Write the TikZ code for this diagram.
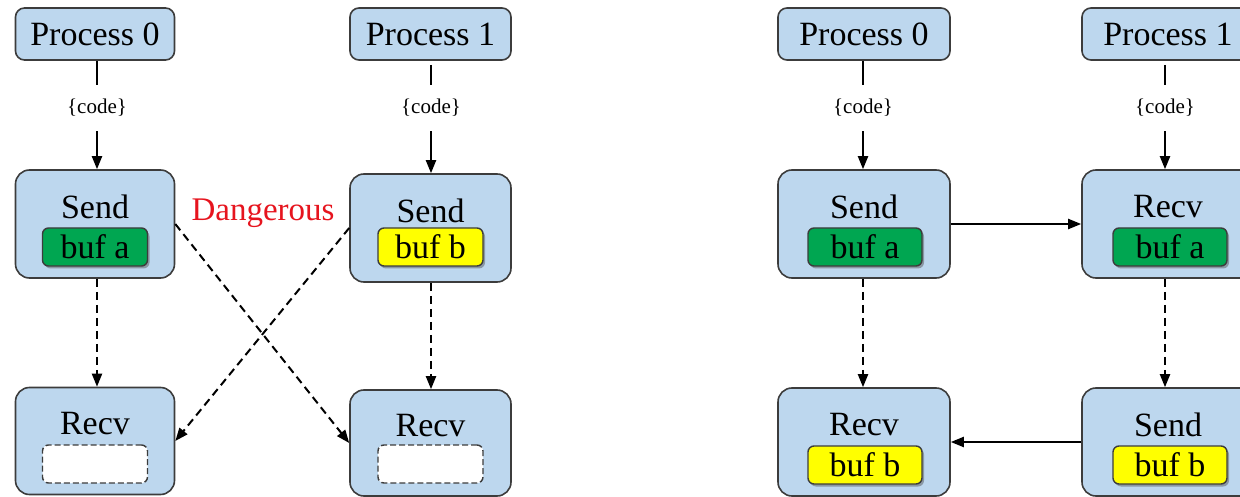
\documentclass[tikz,border=0pt]{standalone}
\usepackage{fontspec}
\setmainfont{Liberation Serif}
\usetikzlibrary{arrows.meta,shadows}
\definecolor{boxblue}{RGB}{189,215,238}
\definecolor{bufgreen}{RGB}{0,166,81}
\definecolor{bufyellow}{RGB}{255,255,0}
\definecolor{edgegray}{RGB}{60,60,60}
\definecolor{dangerred}{RGB}{230,20,30}
\begin{document}
\begin{tikzpicture}[x=1pt,y=-1pt,
  procbox/.style={draw=edgegray,line width=1.6pt,fill=boxblue,rounded corners=9pt,minimum height=52pt,inner sep=0pt,font=\fontsize{34}{40}\selectfont},
  opbox/.style={draw=edgegray,line width=1.6pt,fill=boxblue,rounded corners=14pt,minimum height=108pt,inner sep=0pt},
  optitle/.style={inner sep=0pt,font=\fontsize{34}{40}\selectfont},
  bufbox/.style={draw=edgegray,line width=1.4pt,rounded corners=6pt,minimum height=38pt,inner sep=0pt,font=\fontsize{34}{40}\selectfont,drop shadow={shadow xshift=2pt,shadow yshift=-2.5pt,opacity=0.45,fill=black!70}},
  greenbuf/.style={bufbox,fill=bufgreen},
  yellowbuf/.style={bufbox,fill=bufyellow},
  emptybuf/.style={draw=edgegray,line width=1.4pt,dash pattern=on 6pt off 3pt,rounded corners=6pt,minimum height=38pt,inner sep=0pt,fill=white},
  codelbl/.style={inner sep=0pt,minimum height=46pt,font=\fontsize{21}{24}\selectfont},
  link/.style={line width=2pt,draw=black},
  arr/.style={link,-{Triangle[length=13pt,width=10pt]}},
  darr/.style={arr,dash pattern=on 8pt off 5pt}
]
\useasboundingbox (0,0) rectangle (1240,497);

% ---------------- left diagram ----------------
\node[procbox,minimum width=159pt] (p0l) at (95,34) {Process 0};
\node[procbox,minimum width=161pt] (p1l) at (430.5,34) {Process 1};
\node[codelbl] (c0l) at (97,108) {\{code\}};
\node[codelbl] (c1l) at (431,108) {\{code\}};

\node[opbox,minimum width=159pt] (s0l) at (95,224) {};
\node[optitle] (s0lt) at (95,207) {Send};
\node[greenbuf,minimum width=105pt] (s0lb) at (95,247) {buf a};

\node[opbox,minimum width=161pt] (s1l) at (430.5,228) {};
\node[optitle] (s1lt) at (430.5,211) {Send};
\node[yellowbuf,minimum width=105pt] (s1lb) at (430.5,247) {buf b};

\node[opbox,minimum width=159pt,minimum height=107pt] (r0l) at (95,441) {};
\node[optitle] (r0lt) at (95,424) {Recv};
\node[emptybuf,minimum width=105pt] (r0lb) at (95,464) {};

\node[opbox,minimum width=161pt,minimum height=106pt] (r1l) at (430.5,443) {};
\node[optitle] (r1lt) at (430.5,426) {Recv};
\node[emptybuf,minimum width=105pt] (r1lb) at (430.5,464) {};

\node[inner sep=0pt,text=dangerred,font=\fontsize{33}{40}\selectfont] (dang) at (263,213) {Dangerous};

\draw[link] (c0l.north |- p0l.south) -- (c0l.north);
\draw[arr] (c0l.south) -- (c0l.south |- s0l.north);
\draw[link] (c1l.north |- p1l.south) ++(0,4) coordinate (p1lgap) -- (c1l.north);
\draw[arr] (c1l.south) -- (c1l.south |- s1l.north);
\draw[darr] (c0l.south |- s0l.south) -- (c0l.south |- r0l.north);
\draw[darr] (c1l.south |- s1l.south) -- (c1l.south |- r1l.north);
\draw[darr] (s0l.east) -- (r1l.west);
\draw[darr] (s1l.west) -- (r0l.east);

% ---------------- right diagram ----------------
\node[procbox,minimum width=172pt] (p0r) at (864,34) {Process 0};
\node[procbox,minimum width=172pt] (p1r) at (1168,34) {Process 1};
\node[codelbl] (c0r) at (863,108) {\{code\}};
\node[codelbl] (c1r) at (1165,108) {\{code\}};

\node[opbox,minimum width=172pt] (s0r) at (864,224) {};
\node[optitle] (s0rt) at (864,207) {Send};
\node[greenbuf,minimum width=114pt] (s0rb) at (865,247) {buf a};

\node[opbox,minimum width=172pt] (r1r) at (1168,224) {};
\node[optitle] (r1rt) at (1168,207) {Recv};
\node[greenbuf,minimum width=114pt] (r1rb) at (1170,247) {buf a};

\node[opbox,minimum width=172pt] (r0r) at (864,442) {};
\node[optitle] (r0rt) at (864,425) {Recv};
\node[yellowbuf,minimum width=114pt] (r0rb) at (865,465) {buf b};

\node[opbox,minimum width=172pt] (s1r) at (1168,442) {};
\node[optitle] (s1rt) at (1168,425) {Send};
\node[yellowbuf,minimum width=114pt] (s1rb) at (1170,465) {buf b};

\draw[link] (c0r.north |- p0r.south) -- (c0r.north);
\draw[arr] (c0r.south) -- (c0r.south |- s0r.north);
\draw[link] (c1r.north |- p1r.south) ++(0,4) coordinate (p1rgap) -- (c1r.north);
\draw[arr] (c1r.south) -- (c1r.south |- r1r.north);
\draw[darr] (c0r.south |- s0r.south) -- (c0r.south |- r0r.north);
\draw[darr] (c1r.south |- r1r.south) -- (c1r.south |- s1r.north);
\draw[arr] (s0r.east) -- (r1r.west);
\draw[arr] (s1r.west) -- (r0r.east);
\end{tikzpicture}
\end{document}
